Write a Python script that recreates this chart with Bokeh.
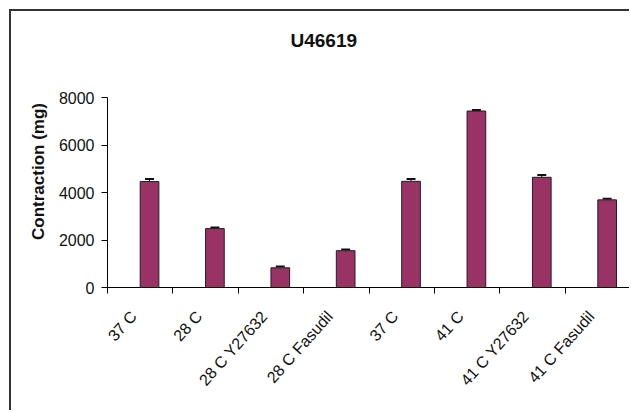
import math
from bokeh.plotting import figure
from bokeh.models import Range1d, FixedTicker, ColumnDataSource, Whisker, TeeHead
from bokeh.embed import file_html
from bokeh.resources import INLINE

# ---- data ----
categories = ["37 C", "28 C", "28 C Y27632", "28 C Fasudil",
              "37 C", "41 C", "41 C Y27632", "41 C Fasudil"]
contraction = [4460, 2480, 830, 1550, 4470, 7430, 4640, 3690]
error = [110, 50, 50, 55, 100, 40, 100, 50]
y_ticks = [0, 2000, 4000, 6000, 8000]
title_text = "U46619"
y_label = "Contraction (mg)"

FONT = "Liberation Sans"
BAR_COLOR = "#993366"

# page offset of the chart-area frame (margin + border)
MARGIN, BORDER = 9, 2
OFF = MARGIN + BORDER
W, H = 631 - OFF, 412 - OFF

n = len(categories)
centers = [i + 0.5 for i in range(n)]
# Excel-like clustered layout: second series of two, gap width 150%
bar_w = 1 / 3.5
xs = [c + bar_w / 2 for c in centers]
upper = [v + e for v, e in zip(contraction, error)]
label_pos = [c - 0.1 for c in centers]  # rotated labels end slightly left of centre

src = ColumnDataSource(dict(x=xs, top=contraction, upper=upper, cat=categories))

frame_left, frame_top, zero_px, eight_px = 107 - OFF, 55 - OFF, 287 - OFF, 97 - OFF
y_top = y_ticks[-1] * (zero_px - frame_top) / (zero_px - eight_px)

p = figure(width=W, height=H, output_backend="svg", toolbar_location=None,
           x_range=Range1d(0, n), y_range=Range1d(0, y_top),
           min_border_left=frame_left, min_border_right=1,
           min_border_top=frame_top, min_border_bottom=H - zero_px)
p.margin = (MARGIN, 0, 0, MARGIN)
p.styles = {"border-left": f"{BORDER}px solid #333333",
            "border-top": f"{BORDER}px solid #333333"}
p.outline_line_color = None
p.xgrid.visible = False
p.ygrid.visible = False
p.background_fill_color = "white"
p.border_fill_color = "white"

p.vbar(x="x", top="top", width=bar_w, source=src,
       fill_color=BAR_COLOR, line_color="#2a1a22", line_width=1)

wh = Whisker(base="x", lower="top", upper="upper", source=src, dimension="height",
             lower_head=None,
             upper_head=TeeHead(size=9, line_color="#111111", line_width=2),
             line_color="#111111", line_width=1)
p.add_layout(wh)

# title
p.title.text = title_text
p.title.text_font = FONT
p.title.text_font_style = "bold"
p.title.text_font_size = "19px"
p.title.text_color = "#111111"
p.title.align = "left"
p.title.offset = 183

# y axis
ya = p.yaxis[0]
ya.ticker = FixedTicker(ticks=y_ticks, minor_ticks=[])
ya.bounds = (0, y_ticks[-1])
ya.axis_line_color = "black"
ya.major_tick_line_color = "black"
ya.major_tick_in = 0
ya.major_tick_out = 6
ya.minor_tick_line_color = None
ya.major_label_text_font = FONT
ya.major_label_text_font_size = "16px"
ya.major_label_text_color = "#111111"
ya.major_label_standoff = 7
ya.axis_label = y_label
ya.axis_label_text_font = FONT
ya.axis_label_text_font_style = "bold"
ya.axis_label_text_font_size = "17px"
ya.axis_label_text_color = "#111111"
ya.axis_label_standoff = 8

# x axis: labels near centres, tick marks at boundaries (minor ticks)
xa = p.xaxis[0]
xa.ticker = FixedTicker(ticks=label_pos, minor_ticks=list(range(n + 1)))
xa.major_label_overrides = {c: lab for c, lab in zip(label_pos, categories)}
xa.axis_line_color = "black"
xa.major_tick_line_color = None
xa.major_tick_in = 0
xa.major_tick_out = 0
xa.minor_tick_line_color = "black"
xa.minor_tick_in = 0
xa.minor_tick_out = 6
xa.major_label_orientation = 0.84
xa.major_label_text_font = FONT
xa.major_label_text_font_size = "16px"
xa.major_label_text_color = "#111111"
xa.major_label_standoff = 20

open("out.html", "w").write(file_html(p, INLINE))
